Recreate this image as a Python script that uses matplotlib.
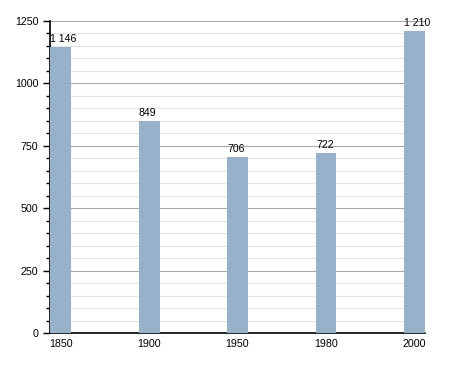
import matplotlib.pyplot as plt
from matplotlib.ticker import MultipleLocator

annees = ["1850", "1900", "1950", "1980", "2000"]
population = [1146, 849, 706, 722, 1210]
etiquettes = ["1 146", "849", "706", "722", "1 210"]

plt.rcParams['font.family'] = ['Liberation Sans', 'DejaVu Sans']

fig = plt.figure(figsize=(4.55, 3.73), dpi=100)
ax = fig.add_axes([0.110, 0.107, 0.824, 0.837])

x = range(len(annees))
largeur = 0.237
ax.bar(x, population, width=largeur, color='#97b1cb', zorder=3)
# etiquettes alignees sur le bord gauche des barres
for i, v in enumerate(population):
    ax.text(i - largeur / 2 + 0.005, v + 12, etiquettes[i], ha='left', va='bottom',
            fontsize=7.6, zorder=4)

ax.set_xlim(-largeur / 2, len(annees) - 1 + largeur / 2)
ax.set_ylim(0, 1250)
ax.set_xticks(list(x))
ax.set_xticklabels(annees)
ax.yaxis.set_major_locator(MultipleLocator(250))
ax.yaxis.set_minor_locator(MultipleLocator(50))
ax.grid(axis='y', which='major', color='#a8a8a8', linewidth=0.8, zorder=1)
ax.grid(axis='y', which='minor', color='#e2e2e2', linewidth=0.8, zorder=0)

for s in ['top', 'right']:
    ax.spines[s].set_visible(False)
ax.spines['left'].set_linewidth(1.2)
ax.spines['bottom'].set_linewidth(1.2)
ax.tick_params(axis='x', length=0, labelsize=7.7, pad=4)
ax.tick_params(axis='y', which='major', length=5, width=1, labelsize=7.7)
ax.tick_params(axis='y', which='minor', length=3, width=1)

fig.savefig('out.png', dpi=100)
